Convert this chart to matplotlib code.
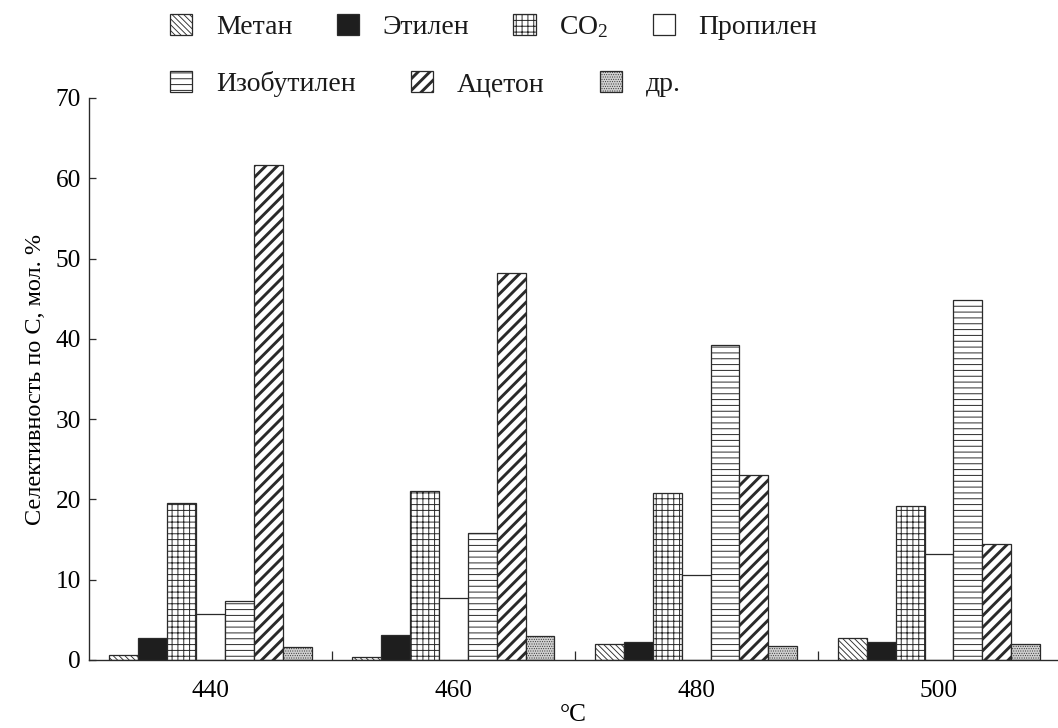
import matplotlib
matplotlib.use('Agg')
import matplotlib.pyplot as plt
import numpy as np

# Selectivity by carbon, mol. %, at each temperature
temps = ['440', '460', '480', '500']
products = ['Метан', 'Этилен', 'CO$_2$', 'Пропилен', 'Изобутилен', 'Ацетон', 'др.']

methane = [0.6, 0.4, 2.0, 2.7]
ethylene = [2.8, 3.1, 2.2, 2.2]
co2 = [19.5, 21.0, 20.8, 19.2]
propylene = [5.7, 7.7, 10.6, 13.2]
isobutylene = [7.4, 15.8, 39.2, 44.8]
acetone = [61.7, 48.2, 23.0, 14.5]
other = [1.6, 3.0, 1.8, 2.0]

series = [methane, ethylene, co2, propylene, isobutylene, acetone, other]

# fill / hatch / hatch line width for every product
styles = [
    ('white', '\\\\\\\\', 0.9),
    ('#1e1e1e', '', 1.0),
    ('white', '++', 1.0),
    ('white', '', 1.0),
    ('white', '--', 1.0),
    ('white', '//', 3.0),
    ('#d0d0d0', '.....', 0.6),
]

plt.rcParams['font.family'] = ['Liberation Serif', 'DejaVu Serif']
plt.rcParams['mathtext.fontset'] = 'custom'
plt.rcParams['mathtext.rm'] = 'Liberation Serif'
plt.rcParams['mathtext.it'] = 'Liberation Serif:italic'
plt.rcParams['text.color'] = '#1a1a1a'

DPI = 70
fig = plt.figure(figsize=(1058 / DPI, 728 / DPI), dpi=DPI)
ax = fig.add_axes([89 / 1058, 68 / 728, 1 - 89 / 1058, (660 - 98) / 728])

x = np.arange(len(temps))
width = 0.119
edge = '#2a2a2a'

bars = []
for j, (vals, (fc, hatch, hlw)) in enumerate(zip(series, styles)):
    plt.rcParams['hatch.linewidth'] = hlw
    b = ax.bar(x + (j - 3) * width, vals, width, color=fc, edgecolor=edge,
               hatch=hatch, linewidth=1.3, label=products[j], zorder=2)
    for p in b.patches:
        if hasattr(p, 'set_hatch_linewidth'):
            p.set_hatch_linewidth(hlw)
    bars.append(b)

ax.set_xlim(-0.5, 3.49)
ax.set_ylim(0, 70)
ax.set_yticks(range(0, 71, 10))
ax.set_xticks(x)
ax.set_xticklabels(temps)
ax.set_xticks([0.5, 1.5, 2.5], minor=True)

ax.tick_params(axis='x', which='major', length=0, labelsize=26, pad=21)
ax.tick_params(axis='x', which='minor', direction='in', length=9, width=1.3, color=edge)
ax.tick_params(axis='y', direction='in', length=7, width=1.3, color=edge,
               labelsize=26, pad=8)

for s in ['top', 'right']:
    ax.spines[s].set_visible(False)
for s in ['left', 'bottom']:
    ax.spines[s].set_linewidth(1.4)
    ax.spines[s].set_color(edge)

ax.set_ylabel('Селективность по С, мол. %', fontsize=25, labelpad=10)
ax.set_xlabel('°C', fontsize=26, labelpad=2)

# legend in two rows with their own spacing
leg_kw = dict(frameon=False, fontsize=28.5, handlelength=0.8, handleheight=0.8,
              handletextpad=0.85, borderpad=0, borderaxespad=0, loc='upper left')
leg1 = fig.legend(bars[:4], products[:4], ncol=4, columnspacing=1.6,
                  bbox_to_anchor=(170 / 1058, 1 - 14 / 728), **leg_kw)
leg2 = fig.legend(bars[4:], products[4:], ncol=3, columnspacing=2.0,
                  bbox_to_anchor=(170 / 1058, 1 - 71 / 728), **leg_kw)

# legend swatches keep the bar hatch weight
for leg, sty in ((leg1, styles[:4]), (leg2, styles[4:])):
    for p, (_, _, hlw) in zip(leg.get_patches(), sty):
        if hasattr(p, 'set_hatch_linewidth'):
            p.set_hatch_linewidth(hlw)

fig.savefig('out.png', dpi=DPI)
